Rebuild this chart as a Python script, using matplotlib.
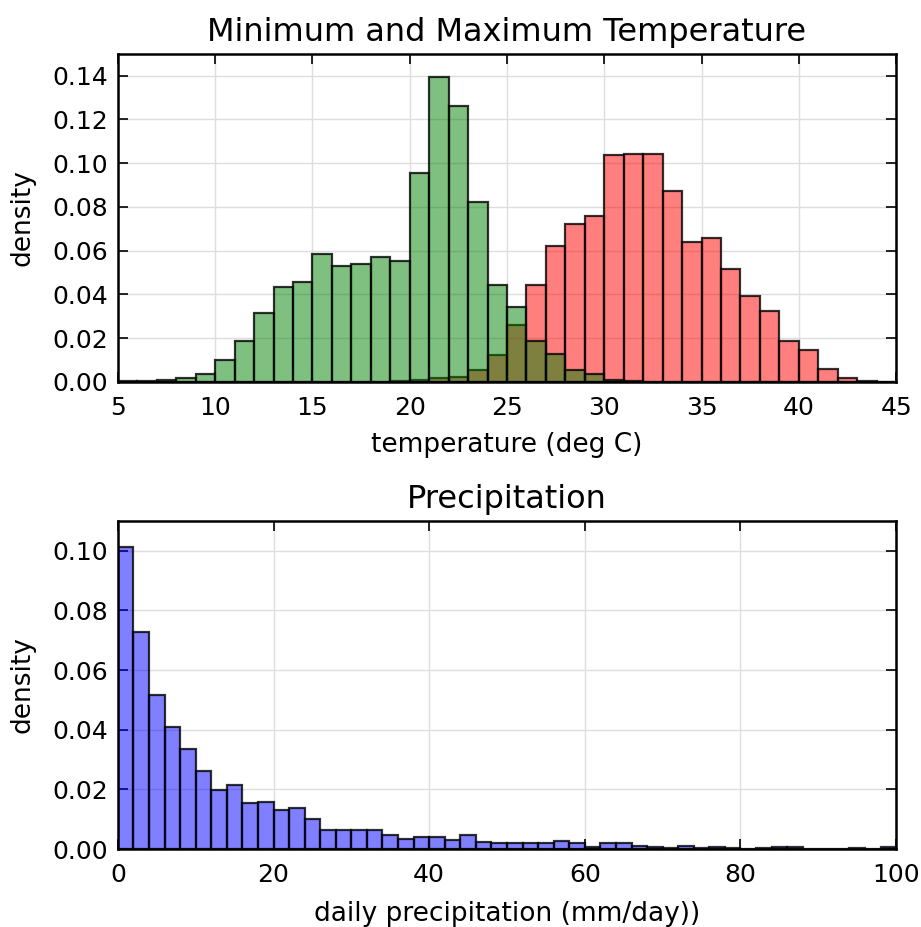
import numpy as np
import matplotlib
matplotlib.use("Agg")
import matplotlib.pyplot as plt

# ---- data (density per bin) ----
temp_edges = np.arange(5, 46, 1)  # 1 deg C bins, 5..45

tmin_density = [0.0002, 0.0005, 0.0010, 0.0020, 0.0034, 0.0102, 0.0188, 0.0313,
                0.0432, 0.0456, 0.0586, 0.0531, 0.0540, 0.0571, 0.0553, 0.0957,
                0.1395, 0.1263, 0.0823, 0.0441, 0.0344, 0.0188, 0.0127, 0.0056,
                0.0038, 0.0008, 0.0003, 0, 0, 0, 0, 0, 0, 0, 0, 0, 0, 0, 0, 0]

tmax_density = [0, 0, 0, 0, 0, 0, 0, 0, 0, 0, 0, 0, 0, 0,
                0.0003, 0.0008, 0.0020, 0.0023, 0.0053, 0.0122, 0.0260, 0.0441,
                0.0621, 0.0724, 0.0760, 0.1037, 0.1041, 0.1040, 0.0872, 0.0640,
                0.0660, 0.0515, 0.0395, 0.0322, 0.0188, 0.0145, 0.0058, 0.0018,
                0.0003, 0]

precip_edges = np.arange(0, 102, 2)  # 2 mm/day bins, 0..100

precip_density = [0.1013, 0.0729, 0.0517, 0.0408, 0.0336, 0.0261, 0.0199, 0.0214,
                  0.0155, 0.0157, 0.0130, 0.0137, 0.0100, 0.0063, 0.0063, 0.0063,
                  0.0063, 0.0048, 0.0033, 0.0042, 0.0039, 0.0030, 0.0046, 0.0024,
                  0.0022, 0.0020, 0.0020, 0.0020, 0.0028, 0.0019, 0.0006, 0.0022,
                  0.0020, 0.0011, 0.0006, 0.0003, 0.0010, 0.0003, 0.0008, 0.0003,
                  0.0001, 0.0003, 0.0008, 0.0006, 0.0002, 0.0001, 0.0002, 0.0005,
                  0.0002, 0.0008]

temp_xticks = [5, 10, 15, 20, 25, 30, 35, 40, 45]
temp_yticks = [0.00, 0.02, 0.04, 0.06, 0.08, 0.10, 0.12, 0.14]
precip_xticks = [0, 20, 40, 60, 80, 100]
precip_yticks = [0.00, 0.02, 0.04, 0.06, 0.08, 0.10]

EDGE = (0, 0, 0, 0.8)


def style_axes(ax):
    ax.tick_params(direction="in", length=7, width=1.2, top=True, right=True,
                   labelsize=18)
    ax.tick_params(axis="x", pad=10)
    ax.tick_params(axis="y", pad=7)
    for s in ax.spines.values():
        s.set_linewidth(1.8)
    ax.set_axisbelow(True)
    ax.grid(True, color="0.87", linestyle="-", linewidth=1.0)


fig = plt.figure(figsize=(9.21, 9.27), dpi=100)
ax1 = fig.add_axes([0.128, 0.588, 0.845, 0.354])
ax2 = fig.add_axes([0.128, 0.084, 0.845, 0.354])

# ---- top: min / max temperature (max drawn first, min on top) ----
ax1.bar(temp_edges[:-1], tmax_density, width=1, align="edge",
        facecolor=(1, 0, 0, 0.5), edgecolor=EDGE, linewidth=1.6)
ax1.bar(temp_edges[:-1], tmin_density, width=1, align="edge",
        facecolor=(0, 0.5, 0, 0.5), edgecolor=EDGE, linewidth=1.6)
ax1.set_xlim(5, 45)
ax1.set_ylim(0, 0.15)
ax1.set_xticks(temp_xticks)
ax1.set_yticks(temp_yticks)
ax1.set_yticklabels([f"{v:.2f}" for v in temp_yticks])
ax1.set_title("Minimum and Maximum Temperature", fontsize=23, pad=9)
ax1.set_xlabel("temperature (deg C)", fontsize=19, labelpad=9)
ax1.set_ylabel("density", fontsize=19, labelpad=12)
style_axes(ax1)

# ---- bottom: precipitation ----
ax2.bar(precip_edges[:-1], precip_density, width=2, align="edge",
        facecolor=(0, 0, 1, 0.5), edgecolor=EDGE, linewidth=1.6)
ax2.set_xlim(0, 100)
ax2.set_ylim(0, 0.11)
ax2.set_xticks(precip_xticks)
ax2.set_yticks(precip_yticks)
ax2.set_yticklabels([f"{v:.2f}" for v in precip_yticks])
ax2.set_title("Precipitation", fontsize=23, pad=9)
ax2.set_xlabel("daily precipitation (mm/day))", fontsize=19, labelpad=10)
ax2.set_ylabel("density", fontsize=19, labelpad=12)
style_axes(ax2)

fig.savefig("out.png", dpi=100)
